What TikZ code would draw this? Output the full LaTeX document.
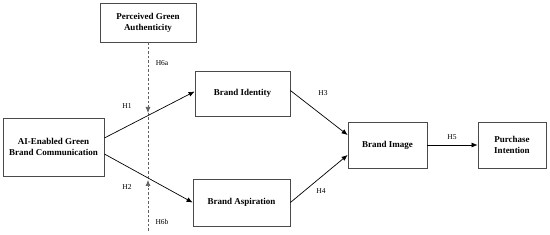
\documentclass[tikz,border=0pt]{standalone}
\usepackage{fontspec}
\setmainfont{Liberation Serif}
\usetikzlibrary{arrows.meta}
\definecolor{boxgray}{HTML}{4A4A4A}
\definecolor{dashgray}{HTML}{606060}
\begin{document}
\begin{tikzpicture}[x=1pt,y=-1pt,
  box/.style={draw=boxgray,line width=0.8pt,align=center,font=\fontsize{9}{10.8}\selectfont\bfseries,inner sep=1pt},
  arr/.style={-{Latex[length=6pt,width=5pt]},line width=0.7pt,black},
  darr/.style={-{Latex[length=6pt,width=5pt]},dashgray,line width=0.7pt,dash pattern=on 2.5pt off 2pt},
  lab/.style={font=\fontsize{7.5}{8.5}\selectfont,inner sep=0pt}]
\useasboundingbox (0,0) rectangle (550,235);
\node[box,minimum width=96pt,minimum height=39pt] (pga) at (148,22.5) {Perceived Green\\Authenticity};
\node[box,minimum width=95pt,minimum height=45pt] (bi) at (242.5,93.5) {Brand Identity};
\node[box,minimum width=101pt,minimum height=58pt] (ai) at (53.5,147) {AI-Enabled Green\\Brand Communication};
\node[box,minimum width=97pt,minimum height=47pt] (ba) at (241.5,202.5) {Brand Aspiration};
\node[box,minimum width=79pt,minimum height=46pt] (bimg) at (387.5,145) {Brand Image};
\node[box,minimum width=68pt,minimum height=46pt] (pi) at (512,145) {Purchase\\Intention};
\coordinate (c1) at (148,113);
\coordinate (c2) at (148,180);
\coordinate (bot) at (148,231);
\draw[arr] ([yshift=9pt]ai.east) -- ([yshift=2pt]bi.west);
\draw[arr] ([yshift=-7pt]ai.east) -- (ba.west);
\draw[arr] ([yshift=3pt]bi.east) -- ([yshift=10pt]bimg.west);
\draw[arr] (ba.east) -- ([yshift=-10pt]bimg.west);
\draw[arr] (bimg.east) -- (pi.west);
\draw[dashgray,line width=0.7pt,dash pattern=on 2.5pt off 2pt] (c1) -- (c2);
\draw[darr] (pga.south) -- (c1);
\draw[darr] (bot) -- (c2);
\node[lab] (h6a) at (162,63) {H6a};
\node[lab] (h6b) at (162,222) {H6b};
\node[lab] (h1) at (127,106) {H1};
\node[lab] (h2) at (127,187) {H2};
\node[lab] (h3) at (323,93) {H3};
\node[lab] (h4) at (321,191) {H4};
\node[lab] (h5) at (452,137) {H5};
\end{tikzpicture}
\end{document}
